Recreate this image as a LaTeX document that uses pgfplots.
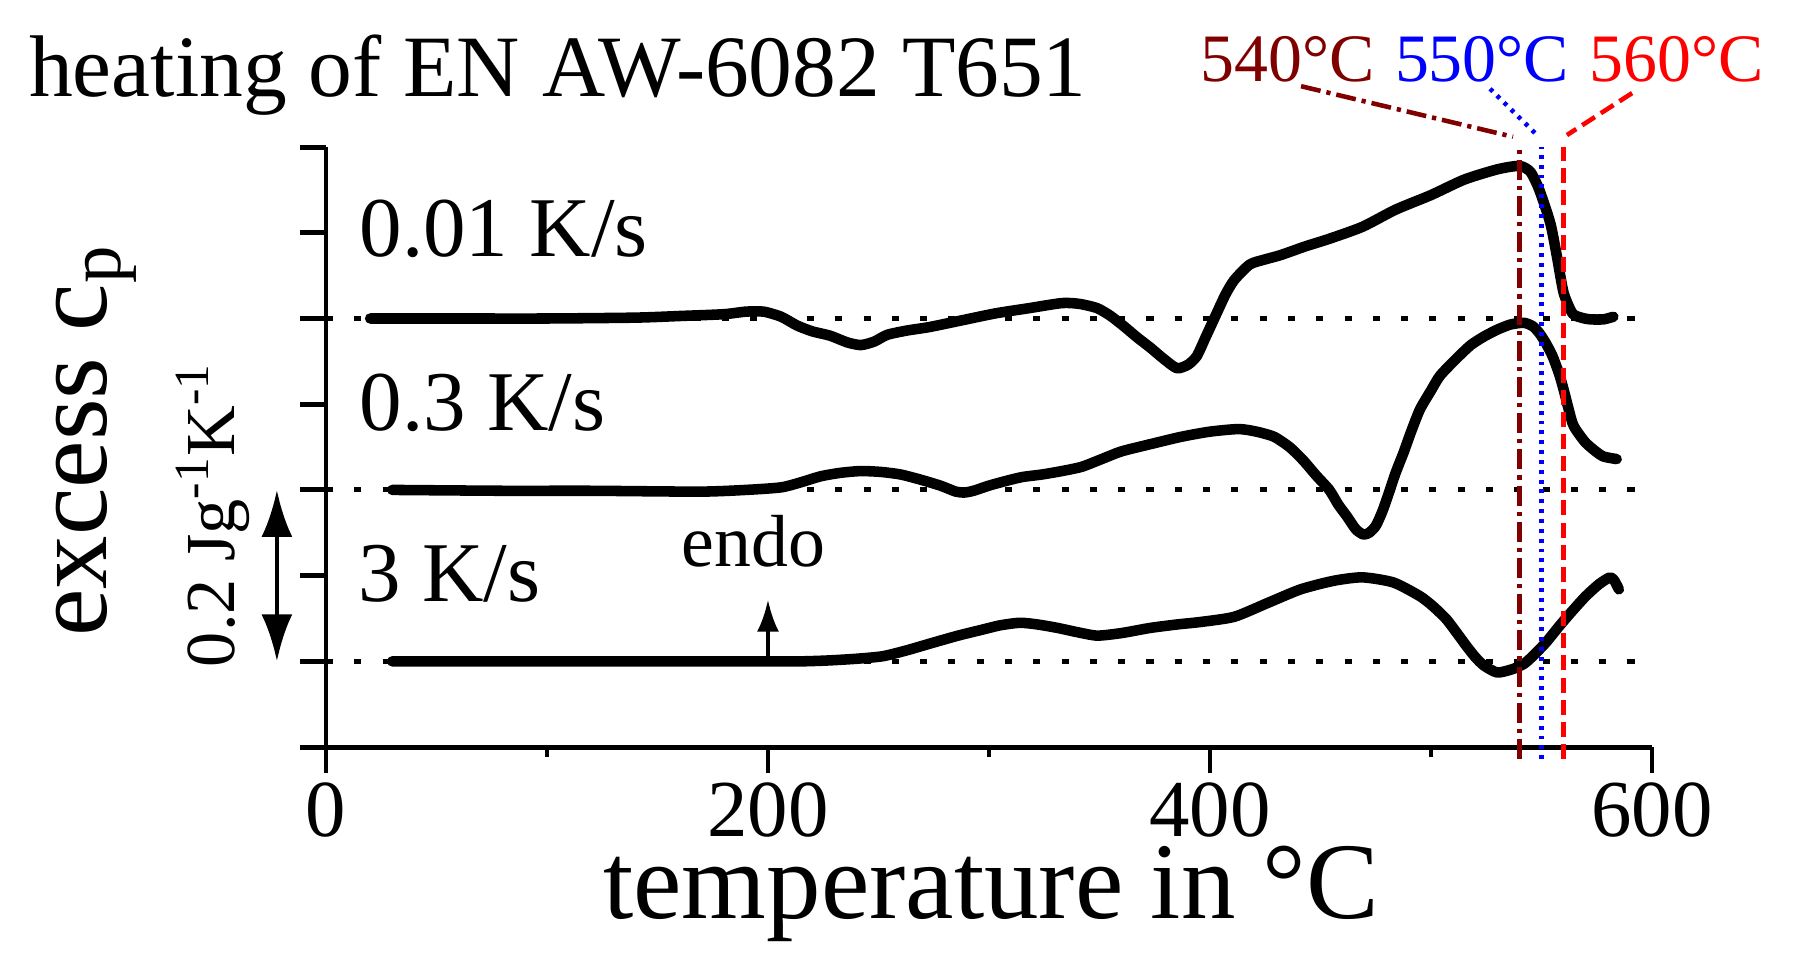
\documentclass[border=0pt]{standalone}
\usepackage{fontspec}
\setmainfont{Liberation Serif}
\usepackage{pgfplots}
\pgfplotsset{compat=1.18}
\usetikzlibrary{arrows.meta}
\definecolor{line540}{HTML}{800000}
\definecolor{line550}{HTML}{0000FF}
\definecolor{line560}{HTML}{FF0000}

\begin{document}
\begin{tikzpicture}
\begin{axis}[
  scale only axis, width=13.26cm, height=6.0cm,
  xmin=0, xmax=600, ymin=-0.1, ymax=0.6,
  axis x line*=bottom, axis y line*=left,
  every outer x axis line/.append style={-},
  every outer y axis line/.append style={-},
  axis line style={line width=1.4pt, black},
  tick style={line width=1.4pt, black},
  tick align=outside,
  xtick={0,200,400,600}, minor xtick={100,300,500},
  major tick length=0.26cm, minor tick length=0.1cm,
  ytick={-0.1,0,0.1,0.2,0.3,0.4,0.5,0.6}, yticklabels={},
  xticklabel style={font=\fontsize{23}{27}\selectfont, anchor=base, inner sep=0pt, yshift=-0.63cm},
  /pgf/number format/assume math mode=true,
  no markers, clip=false,
]
% baselines
\addplot[black, line width=1.4pt, dash pattern=on 2pt off 6.05pt] coordinates {(0,0.4) (596,0.4)};
\addplot[black, line width=1.4pt, dash pattern=on 2pt off 6.05pt] coordinates {(0,0.2) (596,0.2)};
\addplot[black, line width=1.4pt, dash pattern=on 2pt off 6.05pt] coordinates {(0,0) (596,0)};

% 0.01 K/s
\addplot[black, line width=3pt, line join=round, line cap=round, smooth, tension=0.4] coordinates {
(20,0.400) (60,0.400) (100,0.400) (140,0.401) (161,0.403) (180,0.405) (190,0.408) (198,0.408)
(206,0.402) (213,0.392) (220,0.385) (228,0.380) (236,0.372) (242,0.369) (248,0.373) (254,0.381)
(263,0.386) (273,0.390) (288,0.398) (303,0.406) (318,0.412) (333,0.418) (341,0.417) (349,0.412)
(355,0.403) (361,0.391) (367,0.378) (373,0.366) (379,0.353) (385,0.342) (390,0.346) (394,0.356)
(398,0.378) (403,0.406) (407,0.428) (411,0.445) (418,0.463) (425,0.469) (432,0.474) (443,0.484)
(454,0.493) (469,0.507) (484,0.527) (500,0.544) (515,0.562) (530,0.574) (540,0.578) (545,0.571)
(549,0.550) (554,0.511) (557,0.472) (560,0.430) (564,0.406) (568,0.401) (572,0.399) (578,0.399)
(582.5,0.402)};

% 0.3 K/s
\addplot[black, line width=3pt, line join=round, line cap=round, smooth, tension=0.4] coordinates {
(30,0.200) (80,0.199) (120,0.199) (169,0.198) (190,0.200) (206,0.203) (215,0.209) (224,0.216)
(233,0.220) (242,0.222) (251,0.221) (260,0.218) (269,0.212) (278,0.205) (285,0.198) (289,0.197)
(293,0.199) (300,0.205) (307,0.210) (315,0.215) (324,0.218) (333,0.222) (342,0.227) (351,0.236)
(360,0.245) (374,0.254) (387,0.262) (400,0.268) (413,0.271) (421,0.268) (429,0.262) (436,0.250)
(442,0.235) (448,0.217) (454,0.200) (458,0.183) (462,0.169) (466,0.154) (469.4,0.148) (472,0.150)
(475,0.158) (478,0.175) (481,0.197) (484,0.220) (487.5,0.243) (491,0.268) (495,0.294) (500,0.316)
(504,0.333) (511,0.352) (518,0.369) (524,0.379) (530,0.387) (536,0.393) (542,0.395) (546,0.391)
(549,0.383) (552,0.371) (555,0.356) (558,0.335) (560,0.317) (564,0.278) (567,0.265) (570,0.255)
(574,0.246) (578,0.239) (584,0.236)};

% 3 K/s
\addplot[black, line width=3pt, line join=round, line cap=round, smooth, tension=0.4] coordinates {
(30,0.000) (80,0.000) (120,0.000) (160,0.000) (200,0.000) (215,0.000) (227,0.001) (240,0.003)
(252,0.006) (263,0.013) (275,0.022) (286,0.030) (297,0.037) (305,0.042) (314,0.045) (322,0.043)
(331,0.039) (340,0.034) (349,0.030) (360,0.033) (373,0.039) (385,0.043) (396,0.046) (411,0.052)
(426,0.068) (441,0.084) (456,0.094) (469,0.098) (483,0.092) (495,0.076) (501,0.064) (507,0.049)
(512,0.032) (516,0.018) (520,0.005) (524,-0.005) (530,-0.013) (537,-0.009) (542,-0.003) (546,0.006)
(552,0.022) (558,0.041) (564,0.059) (570,0.076) (576,0.090) (581,0.098) (583,0.094) (585,0.084)};

% marked temperatures
\addplot[line540, line width=1.3pt, dash pattern=on 5.7pt off 1.7pt on 1.2pt off 1.7pt] coordinates {(540,-0.114) (540,0.6)};
\addplot[line550, line width=1.3pt, dash pattern=on 1.1pt off 1.7pt] coordinates {(550,-0.114) (550,0.6)};
\addplot[line560, line width=1.3pt, dash pattern=on 4.3pt off 2pt] coordinates {(560,-0.114) (560,0.6)};
\addplot[line540, line width=1.3pt, dash pattern=on 5.7pt off 1.7pt on 1.2pt off 1.7pt] coordinates {(441.2,0.671) (537.1,0.612)};
\addplot[line550, line width=1.3pt, dash pattern=on 1.1pt off 1.7pt] coordinates {(526.7,0.668) (548,0.614)};
\addplot[line560, line width=1.3pt, dash pattern=on 4.3pt off 2pt] coordinates {(591,0.663) (561.5,0.614)};

\node[anchor=base, inner sep=0, text=line540, font=\fontsize{19.3}{23}\selectfont] at (axis cs:435.3,0.677) {540°C};
\node[anchor=base, inner sep=0, text=line550, font=\fontsize{19.3}{23}\selectfont] at (axis cs:523.1,0.677) {550°C};
\node[anchor=base, inner sep=0, text=line560, font=\fontsize{19.3}{23}\selectfont] at (axis cs:611.3,0.677) {560°C};

\node[anchor=base west, inner sep=0, font=\fontsize{24.9}{30}\selectfont] at (axis cs:-134.6,0.6585) {heating of EN AW-6082 T651};
\node[anchor=base west, inner sep=0, font=\fontsize{24.2}{29}\selectfont] at (axis cs:14.9,0.472) {0.01 K/s};
\node[anchor=base west, inner sep=0, font=\fontsize{24.2}{29}\selectfont] at (axis cs:14.9,0.269) {0.3 K/s};
\node[anchor=base west, inner sep=0, font=\fontsize{24.2}{29}\selectfont] at (axis cs:14.3,0.070) {3 K/s};
\node[anchor=base, inner sep=0, font=\fontsize{21}{25}\selectfont] at (axis cs:193.4,0.111) {endo};
\draw[-{Latex[length=0.32cm,width=0.22cm]}, line width=1.2pt] (axis cs:200,0) -- (axis cs:200,0.072);
\draw[{Latex[length=0.47cm,width=0.31cm]}-{Latex[length=0.47cm,width=0.31cm]}, line width=1.3pt] (axis cs:-22.2,0) -- (axis cs:-22.2,0.2);
\node[rotate=90, anchor=base, inner sep=0, font=\fontsize{20}{24}\selectfont] at (axis cs:-41.2,0.1707) {0.2 Jg\textsuperscript{-1}K\textsuperscript{-1}};
\node[rotate=90, anchor=base, inner sep=0, font=\fontsize{30.4}{36}\selectfont] at (axis cs:-99.1,0.2576) {excess c\textsubscript{p}};
\node[anchor=base, inner sep=0, font=\fontsize{31}{37}\selectfont] at (axis cs:300.9,-0.30) {temperature in °C};

\coordinate (bbBL) at (axis cs:-147.5,-0.3508);
\coordinate (bbTR) at (axis cs:665.6,0.7716);
\end{axis}
\pgfresetboundingbox
\path[use as bounding box] (bbBL) rectangle (bbTR);
\end{tikzpicture}
\end{document}
